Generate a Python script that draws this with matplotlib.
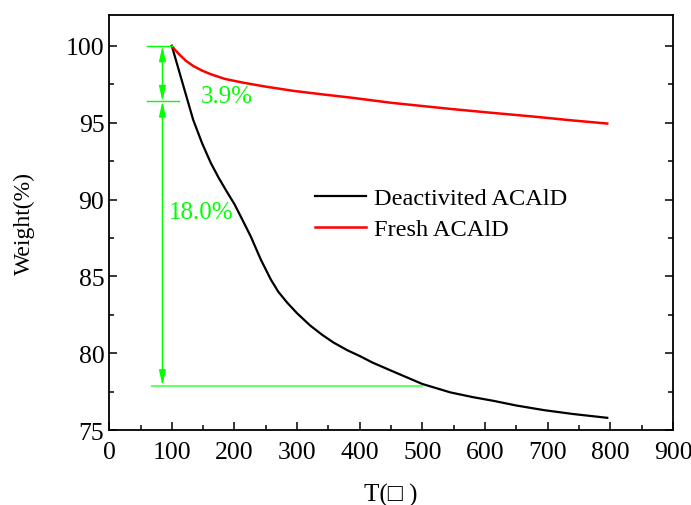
import matplotlib
matplotlib.use("Agg")
import matplotlib.pyplot as plt
from matplotlib.ticker import MultipleLocator

# TGA curves
temp_deact = [100, 117, 134, 148, 162, 175, 188, 200, 210, 226, 242, 258, 270,
              284, 300, 321, 340, 358, 380, 401, 420, 454, 500, 545, 580, 614,
              650, 694, 740, 795]
weight_deact = [100.0, 97.6, 95.2, 93.7, 92.4, 91.4, 90.5, 89.7, 88.9, 87.6,
                86.1, 84.8, 84.0, 83.3, 82.6, 81.8, 81.2, 80.7, 80.2, 79.8,
                79.4, 78.8, 78.0, 77.45, 77.15, 76.9, 76.6, 76.3, 76.05, 75.8]

temp_fresh = [100, 105, 113, 122, 134, 148, 162, 185, 215, 250, 295, 340, 385,
              450, 545, 610, 678, 740, 795]
weight_fresh = [100.0, 99.75, 99.4, 99.05, 98.7, 98.4, 98.16, 97.85, 97.6,
                97.35, 97.07, 96.85, 96.64, 96.3, 95.9, 95.65, 95.4, 95.15,
                94.95]

labels = ["Deactivited ACAlD", "Fresh ACAlD"]

# loss annotation levels
level_top = 100.0
level_mid = 96.4
level_bot = 77.9
loss_fresh = "3.9%"
loss_deact = "18.0%"

plt.rcParams["font.family"] = ["Liberation Serif", "DejaVu Serif"]

fig = plt.figure(figsize=(6.91, 5.06), dpi=100)
ax = fig.add_axes([0.158, 0.148, 0.816, 0.820])

ax.plot(temp_deact, weight_deact, color="black", lw=1.6, label=labels[0])
ax.plot(temp_fresh, weight_fresh, color="red", lw=1.8, label=labels[1])

green = "#00ff00"
# reference lines
ax.plot([60, 101], [level_top, level_top], color=green, lw=1.0)
ax.plot([60, 111], [level_mid, level_mid], color=green, lw=1.0)
ax.plot([68, 500], [level_bot, level_bot], color="#66ff66", lw=1.5)

arrow = dict(arrowstyle="<|-|>,head_length=0.9,head_width=0.2",
             color=green, lw=1.0, shrinkA=0, shrinkB=0, mutation_scale=10)
ax.annotate("", xy=(85, level_top), xytext=(85, level_mid), arrowprops=arrow)
ax.annotate("", xy=(85, level_mid), xytext=(85, level_bot), arrowprops=arrow)

ax.text(146, 96.75, loss_fresh, color=green, fontsize=18, va="center", ha="left")
ax.text(95, 89.2, loss_deact, color=green, fontsize=18, va="center", ha="left")

ax.set_xlim(0, 900)
ax.set_ylim(75, 102)
ax.xaxis.set_major_locator(MultipleLocator(100))
ax.xaxis.set_minor_locator(MultipleLocator(50))
ax.yaxis.set_major_locator(MultipleLocator(5))
ax.yaxis.set_minor_locator(MultipleLocator(2.5))
ax.tick_params(which="both", direction="in", labelsize=18.5, right=True, top=False)
ax.tick_params(axis="x", which="major", pad=7.5)
ax.tick_params(which="major", length=6, width=1.1)
ax.tick_params(which="minor", length=3.5, width=1.1)
for sp in ax.spines.values():
    sp.set_linewidth(1.3)

ax.set_xlabel("T(\u25a1 )", fontsize=18, labelpad=15)
ax.set_ylabel("Weight(%)", fontsize=17, labelpad=22)

ax.legend(frameon=False, fontsize=17.6, loc="center left",
          bbox_to_anchor=(0.365, 0.5215), borderaxespad=0, borderpad=0,
          handlelength=2.1, handletextpad=0.3, labelspacing=0.37)

fig.savefig("out.png", dpi=100)
